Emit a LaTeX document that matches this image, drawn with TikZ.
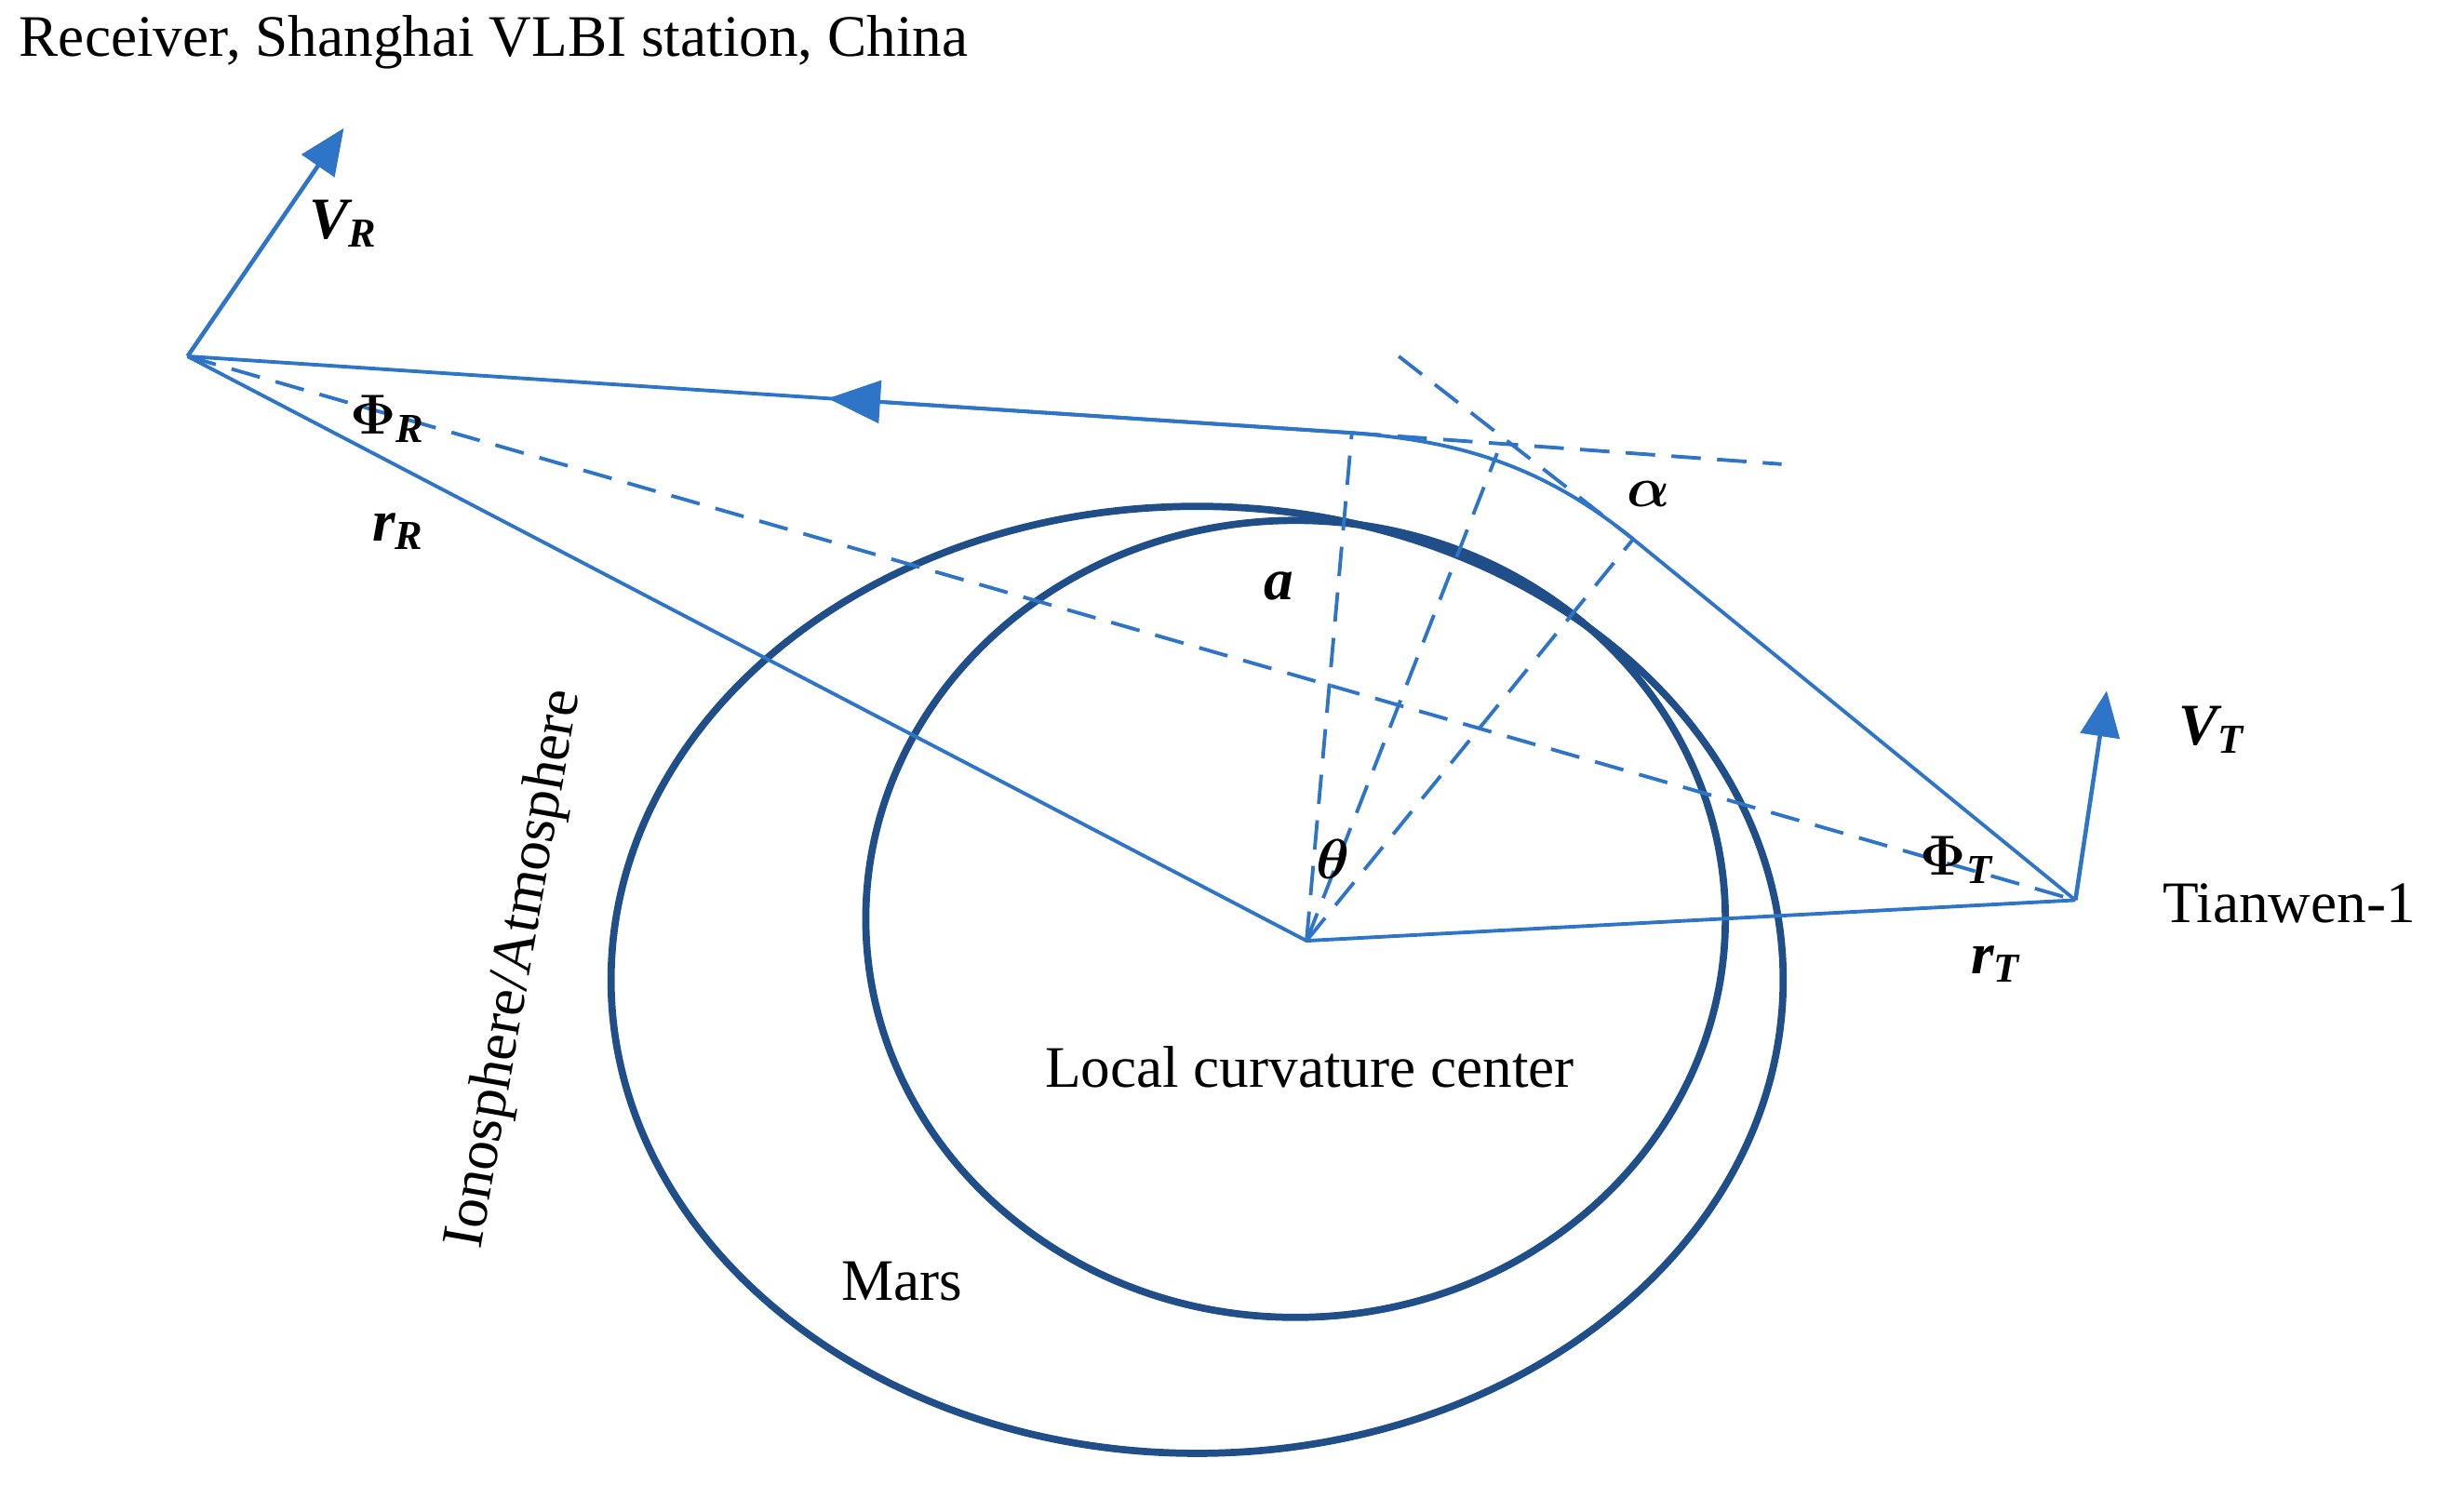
\documentclass[tikz,border=0pt]{standalone}
\usepackage{amsmath}
\usepackage{fontspec}
\setmainfont{Liberation Serif}
\usetikzlibrary{arrows.meta, calc}
\definecolor{ray}{HTML}{2E75C8}
\definecolor{planet}{HTML}{1F4E89}
\tikzset{
    ray/.style={draw=ray, line width=1.1pt},
    guide/.style={draw=ray, line width=1.1pt, dash pattern=on 9pt off 5pt},
    vel/.style={draw=ray, line width=1.3pt, -{Triangle[length=14pt, width=12pt]}},
    body/.style={draw=planet, line width=2.2pt},
    lbl/.style={font=\fontsize{18}{21}\selectfont},
    sym/.style={font=\fontsize{18}{21}\selectfont\bfseries\itshape}
}
\begin{document}
\begin{tikzpicture}[x=0.0168cm, y=-0.0168cm]
\useasboundingbox (0,0) rectangle (1560,967);

% points
\coordinate (receiver) at (120,228);
\coordinate (tianwen) at (1328,576);
\coordinate (center) at (836,602);
\coordinate (entry) at (865,277);
\coordinate (mid) at (958,290);
\coordinate (exit) at (1045,345);
\coordinate (tangent-end) at (1140,297);
\coordinate (tangent2-start) at (895,228);
\coordinate (vr-tip) at (220,82);
\coordinate (vt-tip) at (1348,442);

% Mars and atmosphere
\draw[body] (766,627) ellipse [x radius=375, y radius=303];
\draw[body] (829,588) ellipse [x radius=275, y radius=255];

% ray path
\draw[ray] (receiver) -- (center) -- (tianwen);
\draw[ray] (tianwen) -- (exit) .. controls (985,296) and (930,282) .. (entry) -- (receiver);
\draw[ray, -{Triangle[length=16pt, width=13pt]}] (entry) -- ($(entry)!0.45!(receiver)$);

% dashed guides
\draw[guide] (receiver) -- (tianwen);
\draw[guide] (entry) -- (tangent-end);
\draw[guide] (tangent2-start) -- (exit);
\foreach \p in {entry, mid, exit} {
    \draw[guide] (center) -- (\p);
}

% velocities
\draw[vel] (receiver) -- (vr-tip);
\draw[vel] (tianwen) -- (vt-tip);

% labels
\node[lbl, anchor=west] (title) at (5,27) {Receiver, Shanghai VLBI station, China};
\node[sym] (vr) at (220,143) {V\textsubscript{R}};
\node[sym] (vt) at (1415,467) {V\textsubscript{T}};
\node[sym] (phir) at (248,268) {$\boldsymbol{\Phi}$\textsubscript{R}};
\node[sym] (rr) at (255,340) {r\textsubscript{R}};
\node[sym] (a) at (818,375) {a};
\node[sym] (alpha) at (1055,316) {$\boldsymbol{\alpha}$};
\node[sym] (theta) at (853,550) {$\boldsymbol{\theta}$};
\node[sym] (phit) at (1252,550) {$\boldsymbol{\Phi}$\textsubscript{T}};
\node[sym] (rt) at (1277,617) {r\textsubscript{T}};
\node[lbl, anchor=east] (tw) at (1553,578) {Tianwen-1};
\node[lbl] (lcc) at (838,683) {Local curvature center};
\node[lbl] (mars) at (577,820) {Mars};
\node[lbl, rotate=80] (iono) at (330,620) {Ionosphere/Atmosphere};
\end{tikzpicture}
\end{document}
